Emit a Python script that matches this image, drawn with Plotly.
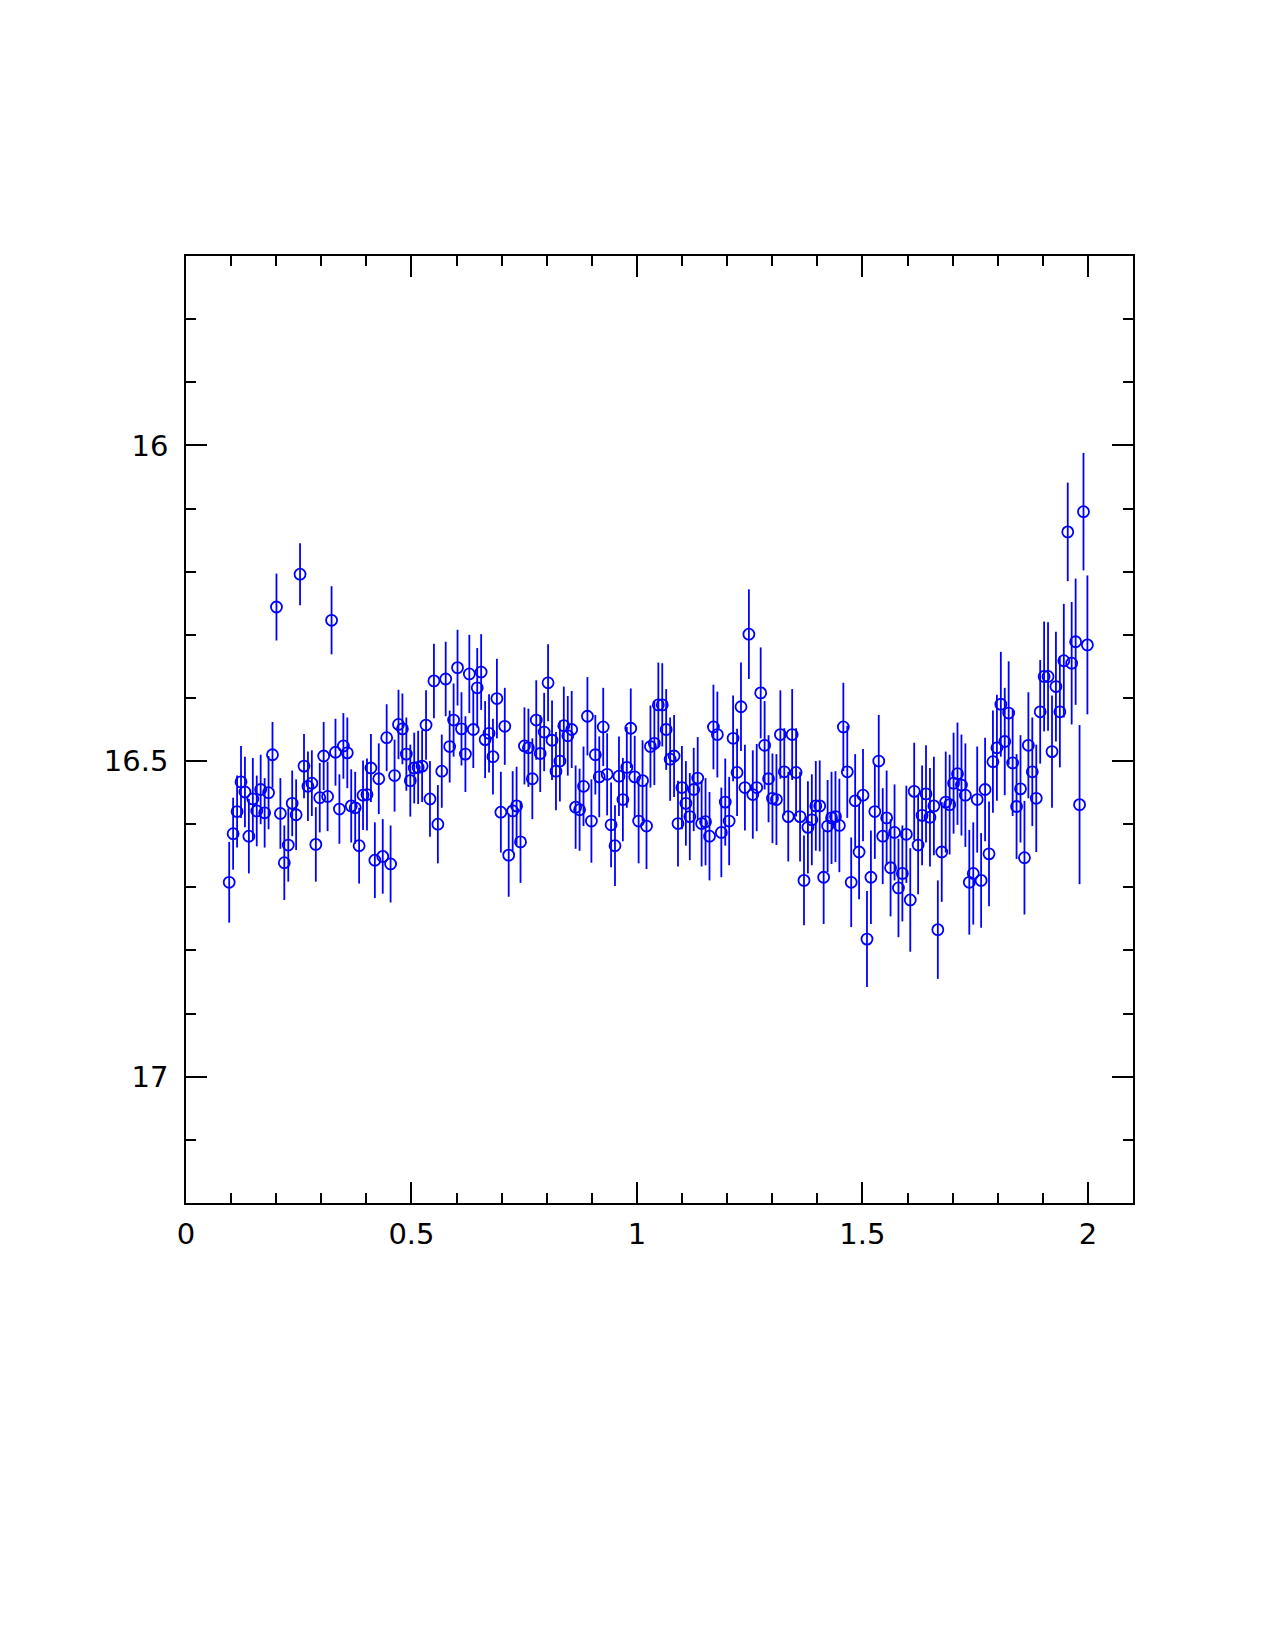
import plotly.graph_objects as go

X_START = 0.0958
X_STEP = 0.00873
N_POINTS = 219

mag = [
    16.692, 16.615, 16.580, 16.533, 16.549, 16.619, 16.560, 16.579, 16.545, 16.582,
    16.550, 16.490, 16.256, 16.583, 16.661, 16.633, 16.567, 16.585, 16.204, 16.508,
    16.540, 16.535, 16.632, 16.558, 16.492, 16.556, 16.277, 16.486, 16.576, 16.476,
    16.487, 16.571, 16.574, 16.634, 16.554, 16.553, 16.511, 16.657, 16.528, 16.651,
    16.463, 16.663, 16.523, 16.442, 16.449, 16.489, 16.531, 16.511, 16.510, 16.508,
    16.443, 16.560, 16.373, 16.600, 16.516, 16.370, 16.477, 16.435, 16.352, 16.449,
    16.489, 16.362, 16.450, 16.384, 16.359, 16.466, 16.456, 16.493, 16.401, 16.581,
    16.445, 16.649, 16.579, 16.571, 16.628, 16.476, 16.479, 16.528, 16.435, 16.488,
    16.454, 16.376, 16.467, 16.516, 16.500, 16.444, 16.460, 16.450, 16.573, 16.577,
    16.540, 16.429, 16.595, 16.490, 16.525, 16.446, 16.521, 16.601, 16.634, 16.524,
    16.561, 16.510, 16.448, 16.525, 16.595, 16.531, 16.603, 16.477, 16.472, 16.411,
    16.411, 16.450, 16.497, 16.492, 16.599, 16.542, 16.567, 16.588, 16.545, 16.527,
    16.599, 16.596, 16.619, 16.446, 16.458, 16.613, 16.565, 16.595, 16.464, 16.518,
    16.414, 16.542, 16.299, 16.553, 16.542, 16.392, 16.475, 16.528, 16.559, 16.561,
    16.458, 16.517, 16.588, 16.458, 16.518, 16.588, 16.689, 16.605, 16.593, 16.571,
    16.571, 16.684, 16.603, 16.590, 16.588, 16.602, 16.446, 16.517, 16.692, 16.563,
    16.644, 16.554, 16.782, 16.684, 16.580, 16.500, 16.619, 16.590, 16.669, 16.613,
    16.701, 16.678, 16.616, 16.720, 16.548, 16.633, 16.586, 16.552, 16.589, 16.571,
    16.767, 16.644, 16.565, 16.569, 16.535, 16.520, 16.538, 16.554, 16.692, 16.678,
    16.561, 16.689, 16.545, 16.647, 16.501, 16.479, 16.410, 16.469, 16.424, 16.503,
    16.572, 16.544, 16.653, 16.475, 16.517, 16.559, 16.422, 16.366, 16.366, 16.485,
    16.382, 16.422, 16.341, 16.137, 16.345, 16.311, 16.569, 16.105, 16.316,
]

err = [
    0.064, 0.057, 0.057, 0.057, 0.056, 0.059, 0.065, 0.056, 0.055, 0.055,
    0.058, 0.052, 0.053, 0.056, 0.059, 0.058, 0.052, 0.056, 0.049, 0.051,
    0.055, 0.052, 0.059, 0.055, 0.054, 0.055, 0.054, 0.053, 0.055, 0.052,
    0.056, 0.058, 0.057, 0.060, 0.055, 0.057, 0.054, 0.060, 0.056, 0.059,
    0.053, 0.061, 0.057, 0.055, 0.056, 0.058, 0.057, 0.056, 0.058, 0.057,
    0.055, 0.060, 0.059, 0.062, 0.058, 0.059, 0.057, 0.058, 0.060, 0.058,
    0.060, 0.062, 0.061, 0.063, 0.060, 0.061, 0.062, 0.060, 0.063, 0.064,
    0.061, 0.066, 0.063, 0.062, 0.065, 0.061, 0.062, 0.064, 0.063, 0.061,
    0.062, 0.061, 0.063, 0.062, 0.064, 0.062, 0.063, 0.061, 0.066, 0.065,
    0.063, 0.062, 0.066, 0.063, 0.064, 0.062, 0.065, 0.067, 0.064, 0.063,
    0.066, 0.064, 0.063, 0.065, 0.067, 0.064, 0.068, 0.065, 0.066, 0.067,
    0.066, 0.064, 0.066, 0.065, 0.068, 0.066, 0.067, 0.069, 0.066, 0.065,
    0.068, 0.069, 0.070, 0.067, 0.068, 0.071, 0.069, 0.070, 0.068, 0.069,
    0.070, 0.068, 0.071, 0.070, 0.069, 0.072, 0.070, 0.069, 0.071, 0.072,
    0.070, 0.069, 0.071, 0.072, 0.070, 0.071, 0.071, 0.073, 0.072, 0.071,
    0.072, 0.074, 0.073, 0.073, 0.072, 0.074, 0.070, 0.073, 0.071, 0.074,
    0.075, 0.073, 0.076, 0.074, 0.075, 0.073, 0.076, 0.075, 0.077, 0.076,
    0.078, 0.076, 0.077, 0.082, 0.077, 0.078, 0.079, 0.077, 0.078, 0.078,
    0.078, 0.079, 0.080, 0.079, 0.080, 0.081, 0.080, 0.082, 0.083, 0.081,
    0.084, 0.075, 0.082, 0.083, 0.081, 0.084, 0.083, 0.085, 0.082, 0.084,
    0.083, 0.085, 0.090, 0.084, 0.086, 0.085, 0.082, 0.087, 0.086, 0.089,
    0.087, 0.088, 0.090, 0.078, 0.097, 0.100, 0.126, 0.093, 0.110,
]

x_tick_vals = [0, 0.5, 1, 1.5, 2]
x_tick_text = ["0", "0.5", "1", "1.5", "2"]
y_tick_vals = [16, 16.5, 17]
y_tick_text = ["16", "16.5", "17"]

n = min(N_POINTS, len(mag), len(err))
x = [round(X_START + i * X_STEP, 4) for i in range(n)]

BLUE = "#0000ff"
FONT = "DejaVu Sans"

fig = go.Figure()
fig.add_trace(go.Scatter(
    x=x, y=mag[:n],
    mode="markers",
    marker=dict(symbol="circle-open", size=11, color=BLUE, line=dict(width=1.8, color=BLUE)),
    error_y=dict(type="data", array=err[:n], visible=True, color=BLUE, thickness=1.8, width=0),
    showlegend=False,
))

axis_common = dict(
    showgrid=False, zeroline=False,
    showline=True, linecolor="black", linewidth=1.7, mirror="ticks",
    ticks="inside", ticklen=21, tickwidth=1.5, tickcolor="black",
    tickfont=dict(family=FONT, size=29, color="black"),
)

fig.update_xaxes(
    range=[0, 2.1], tickmode="array", tickvals=x_tick_vals, ticktext=x_tick_text,
    minor=dict(ticks="inside", ticklen=10, tickwidth=1.5, tickcolor="black", dtick=0.1, tick0=0),
    ticklabelstandoff=4,
    **axis_common,
)
fig.update_yaxes(
    range=[17.2, 15.7], tickmode="array", tickvals=y_tick_vals, ticktext=y_tick_text,
    minor=dict(ticks="inside", ticklen=10, tickwidth=1.5, tickcolor="black", dtick=0.1, tick0=0),
    ticklabelstandoff=10,
    **axis_common,
)

fig.update_layout(
    width=1275, height=1650,
    margin=dict(l=186, r=142, t=256, b=447, pad=0),
    paper_bgcolor="white", plot_bgcolor="white",
)

fig.write_html("out.html")
